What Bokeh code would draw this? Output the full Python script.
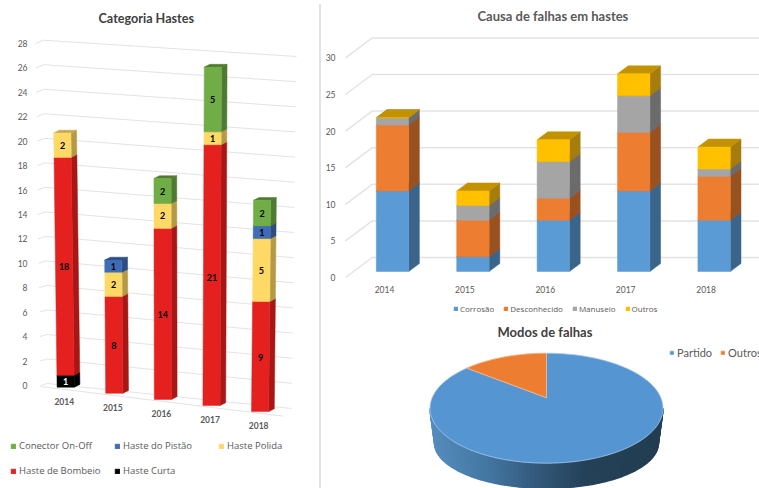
import numpy as np
from bokeh.embed import file_html
from bokeh.resources import INLINE
from bokeh.layouts import row, column
from bokeh.models import FixedTicker, Legend, LegendItem, Range1d, Spacer, Title
from bokeh.core.properties import value
from bokeh.plotting import figure

# ------------------- data -------------------
years = [2014, 2015, 2016, 2017, 2018]

rod_names = ["Haste Curta", "Haste de Bombeio", "Haste Polida", "Haste do Pistão", "Conector On-Off"]
rod_curta = [1, 0, 0, 0, 0]
rod_bombeio = [18, 8, 14, 21, 9]
rod_polida = [2, 2, 2, 1, 5]
rod_pistao = [0, 1, 0, 0, 1]
rod_conector = [0, 0, 2, 5, 2]
rod_ticks = [0, 2, 4, 6, 8, 10, 12, 14, 16, 18, 20, 22, 24, 26, 28]
rod_legend_order = ["Conector On-Off", "Haste do Pistão", "Haste Polida", "Haste de Bombeio", "Haste Curta"]

cause_names = ["Corrosão", "Desconhecido", "Manuseio", "Outros"]
cause_corrosao = [11, 2, 7, 11, 7]
cause_desconhecido = [9, 5, 3, 8, 6]
cause_manuseio = [1, 2, 5, 5, 1]
cause_outros = [0, 2, 3, 3, 3]
cause_ticks = [0, 5, 10, 15, 20, 25, 30]

mode_names = ["Partido", "Outros"]
mode_values = [88, 12]

FONT = "Lato"
LEGEND_FONT = "Open Sans"
TXT = "#595959"

# ------------------- styling -------------------
rod_front = ["#000000", "#E4211F", "#FFD966", "#3F6CB4", "#70AD47"]
rod_side = ["#000000", "#A61715", "#B39A47", "#2D4C80", "#4E7A32"]
rod_top = ["#111111", "#A61715", "#C4A64E", "#2D4C80", "#4E7A32"]

cause_front = ["#5B9BD5", "#ED7D31", "#A5A5A5", "#FFC000"]
cause_side = ["#3B648B", "#9A5120", "#6B6B6B", "#A67D0B"]
cause_top = ["#3B648B", "#9A5120", "#6B6B6B", "#C29200"]
GRID = "#E3E3E3"


def style_axis(ax, size):
    ax.axis_line_color = None
    ax.major_tick_line_color = None
    ax.minor_tick_line_color = None
    ax.major_label_text_font = FONT
    ax.major_label_text_color = TXT
    ax.major_label_text_font_size = size


# ------------------- left chart: skewed stacked columns -------------------
L_W, L_H, L_TOP = 319, 488, 30
L_PXV = 342 / 28      # px per value on the y axis
L_PXC = 48.6          # px per category
L_CX, L_CY = 65.2, 385  # page px of first category / value 0


def lx(px):
    return (px - L_CX) / L_PXC


def ly(py):
    return (L_CY - py) / L_PXV


left = figure(width=L_W, height=L_H, output_backend="svg", toolbar_location=None,
              x_range=Range1d(lx(0), lx(L_W)), y_range=Range1d(ly(L_H), ly(L_TOP)),
              min_border_left=0, min_border_right=0, min_border_top=L_TOP, min_border_bottom=0,
              outline_line_color=None)
left.xgrid.visible = False
left.ygrid.visible = False
left.xaxis.visible = False
left.yaxis.ticker = FixedTicker(ticks=rod_ticks)
left.yaxis.fixed_location = lx(35)
style_axis(left.yaxis[0], "8.5px")
left.yaxis.major_label_standoff = 2


def lproj(i, v, back=0.0):
    """category index and value -> chart coordinates, with the perspective of the 3-D box"""
    rise = 12.02 * v + (0.004 + 0.005 * i) * v * v
    lean = (-0.16 + 0.07 * i) / L_PXC
    base = -(1.7 + 6.1 * i)
    return i + lean * v + back * 5.6 / L_PXC, (base + rise + back * 2.8) / L_PXV


wall_xs, wall_ys = [], []
for tv in rod_ticks:
    t = tv / 28
    xl, xr = 47 + (43 - 47) * t, 291 + (296 - 291) * t
    yl, yr = 383 + (39.7 - 383) * t, 408 + (56 - 408) * t
    wall_xs.append([lx(40 - 5 * t), lx(xl), lx(xr)])
    wall_ys.append([tv, ly(yl), ly(yr)])
left.multi_line(wall_xs, wall_ys, line_color=GRID, line_width=1)
left.line([lx(40), lx(283)], [ly(386), ly(415.7)], line_color=GRID, line_width=1)

rod_series = [rod_curta, rod_bombeio, rod_polida, rod_pistao, rod_conector]
half = 8.6 / L_PXC
rod_renderers = {}
cum = np.zeros(len(years))
lab_x, lab_y, lab_t, lab_c = [], [], [], []
for s, vals in enumerate(rod_series):
    fx, fy, sx, sy, tx, ty = [], [], [], [], [], []
    for i, v in enumerate(vals):
        if v == 0:
            continue
        b, t = cum[i], cum[i] + v
        a0, a1 = lproj(i, b), lproj(i, t)
        a0b, a1b = lproj(i, b, 1), lproj(i, t, 1)
        fx.append([a0[0] - half, a0[0] + half, a1[0] + half, a1[0] - half])
        fy.append([a0[1], a0[1], a1[1], a1[1]])
        sx.append([a0[0] + half, a0b[0] + half, a1b[0] + half, a1[0] + half])
        sy.append([a0[1], a0b[1], a1b[1], a1[1]])
        tx.append([a1[0] - half, a1[0] + half, a1b[0] + half, a1b[0] - half])
        ty.append([a1[1], a1[1], a1b[1], a1b[1]])
        m = lproj(i, (b + t) / 2)
        lab_x.append(m[0])
        lab_y.append(m[1])
        lab_t.append(str(v))
        lab_c.append("#FFFFFF" if s == 0 else "#000000")
    left.patches(sx, sy, fill_color=rod_side[s], line_color=rod_side[s], line_width=0.5)
    left.patches(tx, ty, fill_color=rod_top[s], line_color=rod_top[s], line_width=0.5)
    rod_renderers[rod_names[s]] = left.patches(fx, fy, fill_color=rod_front[s], line_color=rod_front[s], line_width=0.5)
    cum += np.array(vals)

left.text(lab_x, lab_y, text=lab_t, text_color=lab_c, text_font=value(FONT), text_font_style="bold",
          text_font_size="9px", text_align="center", text_baseline="middle")
cat_x = [i - 0.03 for i in range(len(years))]
cat_y = [lproj(i, 0)[1] - 14 / L_PXV for i in range(len(years))]
left.text(cat_x, cat_y, text=[str(y) for y in years], text_color=TXT, text_font=value(FONT),
          text_font_style="bold", text_font_size="8.5px", text_align="center", text_baseline="middle")

lg = Legend(items=[LegendItem(label=n, renderers=[rod_renderers[n]]) for n in rod_legend_order],
            location=(10, 11), ncols=3, orientation="horizontal", border_line_color=None, background_fill_alpha=0,
            label_text_font=LEGEND_FONT, label_text_font_size="9.5px", label_text_color=TXT,
            glyph_width=6, glyph_height=6, label_standoff=3, spacing=12, margin=0, padding=0,
            label_height=12, label_width=83)
left.add_layout(lg, "center")
left.title = Title(text="Categoria Hastes", align="left", offset=98,
                   text_font=FONT, text_font_size="12.6px", text_font_style="bold", text_color="#404040")

# ------------------- top right chart: stacked columns on a 3-D floor -------------------
R_X0, R_W, R_H, R_TOP = 321, 438, 314, 28
R_PXV = 7.32
R_PXC = 80.4
R_CX, R_CY = 384, 277


def rx(px):
    return years[0] + (px - R_CX) / R_PXC


def ry(py):
    return (R_CY - py) / R_PXV


top = figure(width=R_W, height=R_H, output_backend="svg", toolbar_location=None,
             x_range=Range1d(rx(R_X0), rx(R_X0 + R_W)), y_range=Range1d(ry(R_H), ry(R_TOP)),
             min_border_left=0, min_border_right=0, min_border_top=R_TOP, min_border_bottom=0,
             outline_line_color=None)
top.xgrid.visible = False
top.ygrid.visible = False
top.yaxis.ticker = FixedTicker(ticks=cause_ticks)
top.xaxis.ticker = FixedTicker(ticks=years)
top.xaxis.major_label_overrides = {y: str(y) for y in years}
top.yaxis.fixed_location = rx(343)
top.xaxis.fixed_location = ry(274)
style_axis(top.yaxis[0], "8.5px")
style_axis(top.xaxis[0], "8.5px")
top.yaxis.major_label_standoff = 2
top.xaxis.major_label_standoff = 5
DEPTH_X = 26.7 / R_PXC
DEPTH_Y = 20 / R_PXV


def rproj(y, v, z=0.0):
    return y + z * DEPTH_X, v + z * DEPTH_Y


gx, gy = [], []
for tv in cause_ticks:
    gx.append([rx(345), rx(345) + DEPTH_X, rx(R_X0 + R_W)])
    gy.append([tv, tv + DEPTH_Y, tv + DEPTH_Y])
top.multi_line(gx, gy, line_color=GRID, line_width=1.5)

cause_series = [cause_corrosao, cause_desconhecido, cause_manuseio, cause_outros]
r_half = 16.2 / R_PXC
cause_renderers = {}
cum = np.zeros(len(years))
Z0, Z1 = 0.3, 0.7
for s, vals in enumerate(cause_series):
    fx, fy, sx, sy, tx, ty = [], [], [], [], [], []
    for i, v in enumerate(vals):
        b, t = cum[i], cum[i] + v
        y = years[i]
        a0, a1 = rproj(y, b, Z0), rproj(y, t, Z0)
        a0b, a1b = rproj(y, b, Z1), rproj(y, t, Z1)
        fx.append([a0[0] - r_half, a0[0] + r_half, a1[0] + r_half, a1[0] - r_half])
        fy.append([a0[1], a0[1], a1[1], a1[1]])
        sx.append([a0[0] + r_half, a0b[0] + r_half, a1b[0] + r_half, a1[0] + r_half])
        sy.append([a0[1], a0b[1], a1b[1], a1[1]])
        tx.append([a1[0] - r_half, a1[0] + r_half, a1b[0] + r_half, a1b[0] - r_half])
        ty.append([a1[1], a1[1], a1b[1], a1b[1]])
    top.patches(sx, sy, fill_color=cause_side[s], line_color=cause_side[s], line_width=0.5)
    top.patches(tx, ty, fill_color=cause_top[s], line_color=cause_top[s], line_width=0.5)
    cause_renderers[cause_names[s]] = top.patches(fx, fy, fill_color=cause_front[s], line_color=cause_front[s], line_width=0.5)
    cum += np.array(vals)

lg2 = Legend(items=[LegendItem(label=n, renderers=[cause_renderers[n]]) for n in cause_names],
             location=(453 - R_X0, 0), orientation="horizontal", border_line_color=None,
             background_fill_alpha=0, label_text_font=LEGEND_FONT, label_text_font_size="8px", label_text_color=TXT,
             glyph_width=5, glyph_height=5, label_standoff=2, spacing=9, margin=0, padding=0, label_height=10)
top.add_layout(lg2, "center")
top.title = Title(text="Causa de falhas em hastes", align="left", offset=156,
                  text_font=FONT, text_font_size="13px", text_font_style="bold", text_color="#595959")

# ------------------- bottom right chart: 3-D pie -------------------
P_H, P_TOP = 174, 30
pie = figure(width=R_W, height=P_H, output_backend="svg", toolbar_location=None,
             x_range=Range1d(R_X0, R_X0 + R_W), y_range=Range1d(-488, -R_H - P_TOP),
             min_border_left=0, min_border_right=0, min_border_top=P_TOP, min_border_bottom=0,
             outline_line_color=None)
pie.axis.visible = False
pie.grid.visible = False
CX, CY, RX, RY, APEX = 546, -407.7, 116.5, 55, 10.5


def rim(frac, rx_=RX, ry_=RY, cy=CY):
    th = 2 * np.pi * np.asarray(frac)
    return CX - rx_ * np.sin(th), cy + ry_ * np.cos(th)


th = np.linspace(0.25, 0.75, 91)
wall_stops_x = [-1.0, -0.48, -0.08, 0.35, 1.0]
wall_stops_c = [(0x55, 0x8D, 0xBE), (0x43, 0x75, 0xA0), (0x33, 0x59, 0x7C), (0x24, 0x41, 0x58), (0x23, 0x3E, 0x52)]
wx, wy, wc = [], [], []
for a, b in zip(th[:-1], th[1:]):
    xa, ya = rim(a)
    xb, yb = rim(b)
    xa2, ya2 = rim(a, RX * 0.96, RY * 0.82, CY - 35)
    xb2, yb2 = rim(b, RX * 0.96, RY * 0.82, CY - 35)
    wx.append([xa, xb, xb2, xa2])
    wy.append([ya, yb, yb2, ya2])
    u = ((xa + xb) / 2 - CX) / RX
    c = [np.interp(u, wall_stops_x, [k[j] for k in wall_stops_c]) for j in range(3)]
    wc.append("#%02X%02X%02X" % tuple(int(round(q)) for q in c))
pie.patches(wx, wy, fill_color=wc, line_color=wc, line_width=1.5)

total = sum(mode_values)
pie_colors = ["#5596D2", "#ED7D31"]
t1 = np.linspace(0, mode_values[1] / total, 30)
t2 = np.linspace(mode_values[1] / total, 1, 180)
x2, y2 = rim(t2)
r_p = pie.patch(np.r_[CX, x2], np.r_[CY + APEX, y2], fill_color=pie_colors[0], line_color="#A9CBEA", line_width=0.8)
x1, y1 = rim(t1)
r_o = pie.patch(np.r_[CX, x1], np.r_[CY + APEX, y1], fill_color=pie_colors[1], line_color="#F5B68C", line_width=0.8)

lg3 = Legend(items=[LegendItem(label=mode_names[0], renderers=[r_p]), LegendItem(label=mode_names[1], renderers=[r_o])],
             location=(669 - R_X0, 129), orientation="horizontal", border_line_color=None,
             background_fill_alpha=0, label_text_font=FONT, label_text_font_size="11px", label_text_color=TXT,
             glyph_width=5, glyph_height=5, label_standoff=3, spacing=8, margin=0, padding=0, label_height=10)
pie.add_layout(lg3, "center")
pie.title = Title(text="Modos de falhas", align="left", offset=176,
                  text_font=FONT, text_font_size="13px", text_font_style="bold", text_color="#404040")

divider = Spacer(width=2, height=484, margin=(4, 0, 0, 0), styles={"background-color": "#E2E2E2"})
page = row(left, divider, column(top, pie, spacing=0), spacing=0)
open("out.html", "w").write(file_html(page, INLINE))
